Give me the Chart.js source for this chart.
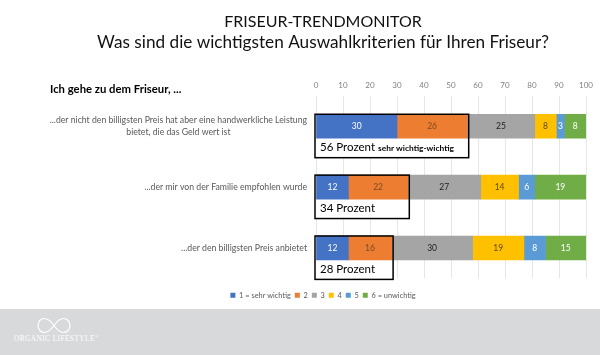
<!DOCTYPE html>
<html>
<head>
<meta charset="utf-8">
<script src="https://cdn.jsdelivr.net/npm/chart.js@4"></script>
<style>
    html, body { margin: 0; padding: 0; background: #fff; width: 600px; height: 355px; overflow: hidden; }
    #wrap { position: absolute; left: 46px; top: 0; width: 554px; height: 309px; }
    #footer { position: absolute; left: 0; top: 309px; width: 600px; height: 46px; background: #d8d9da; }
    #footer svg { position: absolute; left: 37px; top: 8px; }
    #brand { position: absolute; left: 14px; top: 25px; color: #fff; font: 7.3px "Liberation Serif", serif; letter-spacing: 0.45px; white-space: nowrap; }
</style>
</head>
<body>
<div id="wrap"><canvas id="chart" width="554" height="309"></canvas></div>
<div id="footer">
    <svg width="34" height="17" viewBox="0 0 34 17">
        <path d="M17 8.5 C13 3 10 1.5 7.5 1.5 C3.8 1.5 1 4.5 1 8.5 C1 12.5 3.8 15.5 7.5 15.5 C10 15.5 13 14 17 8.5 C21 3 24 1.5 26.5 1.5 C30.2 1.5 33 4.5 33 8.5 C33 12.5 30.2 15.5 26.5 15.5 C24 15.5 21 14 17 8.5 Z" fill="none" stroke="#fff" stroke-width="1.2"/>
    </svg>
    <div id="brand">ORGANIC LIFESTYLE<sup style="font-size:5px">®</sup></div>
</div>
<script>
    const titleLine = "FRISEUR-TRENDMONITOR";
    const subtitleLine = "Was sind die wichtigsten Auswahlkriterien für Ihren Friseur?";
    const heading = "Ich gehe zu dem Friseur, ...";

    const categories = [
        ["...der nicht den billigsten Preis hat aber eine handwerkliche Leistung", "bietet, die das Geld wert ist"],
        ["...der mir von der Familie empfohlen wurde"],
        ["...der den billigsten Preis anbietet"]
    ];

    const seriesNames = ["1 = sehr wichtig", "2", "3", "4", "5", "6 = unwichtig"];
    const values1 = [30, 12, 12];
    const values2 = [26, 22, 16];
    const values3 = [25, 27, 30];
    const values4 = [8, 14, 19];
    const values5 = [3, 6, 8];
    const values6 = [8, 19, 15];

    const boxValues = [56, 34, 28];
    const boxNotes = ["sehr wichtig-wichtig", "", ""];

    //set colors
    const colors = ["#4472c4", "#ed7d31", "#a5a5a5", "#ffc000", "#5b9bd5", "#70ad47"];
    const labelColors = ["#ffffff", "#7c4a22", "#222222", "#5c4a10", "#ffffff", "#ffffff"];

    const allValues = [values1, values2, values3, values4, values5, values6];
    const fontName = "Lato, sans-serif";

    // white boxes go under the bars, the black frame and its text on top
    const boxPlugin = {
        id: "boxPlugin",
        beforeDatasetsDraw(chart) {
            const x = chart.scales.x, y = chart.scales.y, c = chart.ctx;
            const band = y.getPixelForTick(1) - y.getPixelForTick(0);
            c.save();
            c.fillStyle = "#fff";
            boxValues.forEach((v, i) => {
                const mid = y.getPixelForTick(i);
                c.fillRect(x.getPixelForValue(0), mid - 12, x.getPixelForValue(v) - x.getPixelForValue(0) + 2, band / 2 + 12 + 1);
            });
            c.restore();
        },
        afterDatasetsDraw(chart) {
            const x = chart.scales.x, y = chart.scales.y, c = chart.ctx;
            c.save();

            // labels inside the bars
            c.font = "8.5px " + fontName;
            c.textAlign = "center";
            c.textBaseline = "middle";
            chart.data.datasets.forEach((ds, d) => {
                chart.getDatasetMeta(d).data.forEach((bar, i) => {
                    c.fillStyle = labelColors[d];
                    c.fillText(ds.data[i], (bar.x + bar.base) / 2, bar.y);
                });
            });

            // category labels, second line centred under the first
            c.fillStyle = "#595959";
            c.font = "8.7px " + fontName;
            categories.forEach((lines, i) => {
                const mid = y.getPixelForTick(i);
                const w = c.measureText(lines[0]).width;
                lines.forEach((line, n) => {
                    c.textAlign = n === 0 ? "right" : "center";
                    const px = n === 0 ? 261 : 261 - w / 2;
                    c.fillText(line, px, mid + (n - (lines.length - 1) / 2) * 12);
                });
            });

            // heading
            c.fillStyle = "#000";
            c.textAlign = "left";
            c.font = "bold 11.3px " + fontName;
            c.fillText(heading, 4, 89);

            // frames
            const band = y.getPixelForTick(1) - y.getPixelForTick(0);
            boxValues.forEach((v, i) => {
                const mid = y.getPixelForTick(i);
                const left = x.getPixelForValue(0) - 1;
                const right = x.getPixelForValue(v) + 1.5;
                const top = mid - 12;
                const bottom = mid + band / 2 + 1;
                c.strokeStyle = "#000";
                c.lineWidth = 1.5;
                c.strokeRect(left, top, right - left, bottom - top);
                c.fillStyle = "#000";
                c.font = "11.5px " + fontName;
                c.textAlign = "left";
                const text = v + " Prozent";
                c.fillText(text, left + 5, mid + 21);
                if (boxNotes[i]) {
                    const tw = c.measureText(text).width;
                    c.font = "bold 8.4px " + fontName;
                    c.fillText(boxNotes[i], left + 5 + tw + 3, mid + 22);
                }
            });
            c.restore();
        }
    };

    new Chart(document.getElementById("chart"), {
        type: "bar",
        data: {
            labels: categories,
            datasets: seriesNames.map((name, i) => ({
                label: name,
                data: allValues[i],
                backgroundColor: colors[i],
                barThickness: 24
            }))
        },
        options: {
            indexAxis: "y",
            responsive: false,
            animation: false,
            layout: { padding: { top: 12, right: 0, bottom: 0, left: 0 } },
            scales: {
                x: {
                    position: "top",
                    stacked: true,
                    min: 0,
                    max: 100,
                    border: { display: false },
                    grid: { color: "#e6e6e6", drawTicks: false },
                    ticks: { stepSize: 10, maxRotation: 0, color: "#7f7f7f", font: { family: fontName, size: 8 }, padding: 6 },
                    afterFit(scale) { scale.height = 20; }
                },
                y: {
                    stacked: true,
                    border: { display: false },
                    grid: { display: false },
                    ticks: { display: false },
                    afterFit(scale) { scale.width = 270; }
                },
                // empty axis, only keeps the plot off the right edge so title and legend stay centred
                rightGap: {
                    axis: "y",
                    position: "right",
                    border: { display: false },
                    grid: { display: false },
                    ticks: { display: false },
                    afterFit(scale) { scale.width = 14; }
                }
            },
            plugins: {
                title: {
                    display: true,
                    text: titleLine,
                    color: "#111",
                    font: { family: fontName, size: 16, weight: "normal", lineHeight: 1.2 },
                    padding: { top: 0, bottom: 1 }
                },
                subtitle: {
                    display: true,
                    text: subtitleLine,
                    color: "#111",
                    font: { family: fontName, size: 17.2, weight: "normal", lineHeight: 1.2 },
                    padding: { top: 0, bottom: 23 }
                },
                legend: {
                    position: "bottom",
                    title: { display: true, text: "", font: { size: 1 }, padding: { top: 8, bottom: 0 } },
                    labels: { boxWidth: 5, boxHeight: 5, padding: 4, color: "#595959", font: { family: fontName, size: 7.4 } }
                },
                tooltip: { enabled: false }
            }
        },
        plugins: [boxPlugin]
    });
</script>
</body>
</html>
